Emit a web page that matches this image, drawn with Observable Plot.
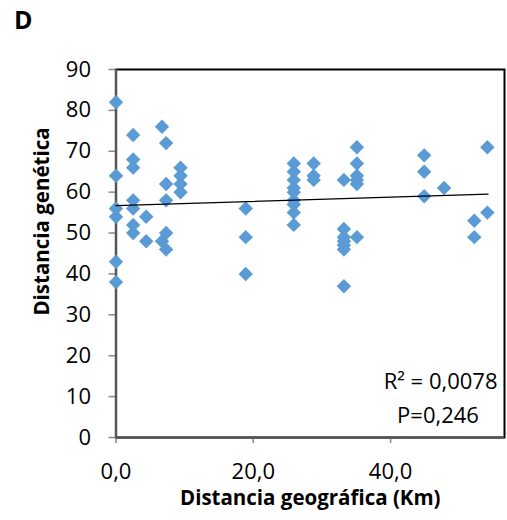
<!DOCTYPE html>
<html><head><meta charset="utf-8">
<script src="https://cdn.jsdelivr.net/npm/d3@7"></script>
<script src="https://cdn.jsdelivr.net/npm/@observablehq/plot@0.6"></script>
<style>
body{margin:0;background:#fff;font-family:"Open Sans",sans-serif;}
#title{height:33.2px;padding:6.8px 0 0 14px;font:bold 25px/25px "Open Sans",sans-serif;color:#000;}
</style></head><body>
<div id="title">D</div>
<div id="chart"></div>
<script>
const geoDistance = [
  0,0,0,0,0,0,
  2.5,2.5,2.5,2.5,2.5,2.5,2.5,
  4.4,4.4,
  6.7,6.7,
  7.3,7.3,7.3,7.3,7.3,
  9.4,9.4,9.4,9.4,
  18.9,18.9,18.9,
  25.9,25.9,25.9,25.9,25.9,25.9,25.9,25.9,25.9,
  28.8,28.8,28.8,
  33.2,33.2,33.2,33.2,33.2,33.2,33.2,
  35.1,35.1,35.1,35.1,35.1,35.1,
  44.9,44.9,44.9,
  47.8,
  52.2,52.2,
  54.1,54.1
];
const genDistance = [
  82,64,56,54,43,38,
  74,68,66,58,56,52,50,
  54,48,
  76,48,
  72,62,58,50,46,
  66,64,62,60,
  56,49,40,
  67,65,63,61,60,58,57,55,52,
  67,64,63,
  63,51,49,48,47,46,37,
  71,67,64,63,62,49,
  69,65,59,
  61,
  53,49,
  71,55
];
const trendX = [0, 54.2];
const trendY = [56.7, 59.5];
const yTicks = [0,10,20,30,40,50,60,70,80,90];
const xTicks = [0,20,40];
const r2Label = "R² = 0,0078";
const pLabel = "P=0,246";
const xTitle = "Distancia geográfica (Km)";
const yTitle = "Distancia genética";

const points = geoDistance.map((d, i) => ({d, v: genDistance[i]}));
const trend = trendX.map((x, i) => ({x, y: trendY[i]}));

const chart = Plot.plot({
  width: 507,
  height: 480,
  marginLeft: 115.5,
  marginRight: 3,
  marginTop: 29,
  marginBottom: 83,
  style: {fontFamily: "'Open Sans', sans-serif", fontSize: "22px", color: "#000", background: "#fff"},
  x: {domain: [0, 56.6]},
  y: {domain: [0, 90]},
  marks: [
    Plot.frame({stroke: "#000", strokeWidth: 2}),
    Plot.axisY({ticks: yTicks, tickSize: 7, tickPadding: 18, stroke: "#888", strokeWidth: 1.5, fill: "#000", label: null, fontSize: 22}),
    Plot.axisX({ticks: xTicks, tickSize: 6, tickPadding: 20, stroke: "#888", strokeWidth: 1.5, fill: "#000", label: null, fontSize: 22,
      tickFormat: d => d.toFixed(1).replace(".", ",")}),
    Plot.ruleX([0], {stroke: "#555", strokeWidth: 2.5}),
    Plot.ruleY([0], {stroke: "#555", strokeWidth: 2.5}),
    Plot.dot(points, {x: "d", y: "v", symbol: "diamond2", r: 6.5, fill: "#5B9BD5", stroke: "none"}),
    Plot.line(trend, {x: "x", y: "y", stroke: "#000", strokeWidth: 1.3}),
    Plot.text([r2Label], {text: d => d, frameAnchor: "bottom-right", textAnchor: "end", lineAnchor: "middle", dx: -7, dy: -56, fontSize: 22}),
    Plot.text([pLabel], {text: d => d, frameAnchor: "bottom-right", textAnchor: "middle", lineAnchor: "middle", dx: -66.5, dy: -22, fontSize: 22}),
    Plot.text([xTitle], {text: d => d, frameAnchor: "bottom", lineAnchor: "middle", dy: 61, fontWeight: "bold", fontSize: 20.5}),
    Plot.text([yTitle], {text: d => d, frameAnchor: "left", rotate: -90, textAnchor: "middle", lineAnchor: "middle", dx: -73.5, dy: -32, fontWeight: "bold", fontSize: 20.5})
  ]
});
document.getElementById("chart").appendChild(chart);
</script>
</body></html>
